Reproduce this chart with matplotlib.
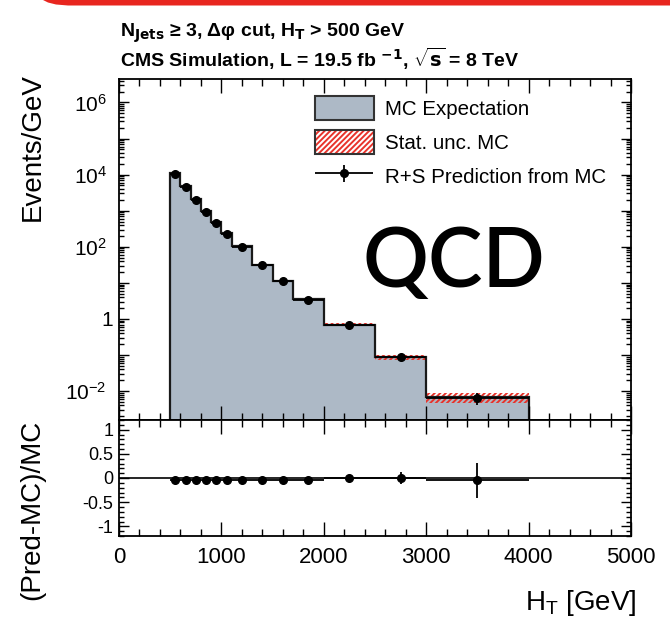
import numpy as np
import matplotlib.pyplot as plt
from matplotlib.patches import Patch, Polygon
from matplotlib.container import ErrorbarContainer
from matplotlib.legend_handler import HandlerTuple, HandlerErrorbar
from matplotlib.ticker import LogLocator, MultipleLocator, FuncFormatter, NullFormatter

plt.rcParams['font.family'] = ['Liberation Sans', 'DejaVu Sans']
plt.rcParams['mathtext.fontset'] = 'custom'
plt.rcParams['mathtext.rm'] = 'Liberation Sans'
plt.rcParams['mathtext.it'] = 'Liberation Sans:italic'
plt.rcParams['mathtext.bf'] = 'Liberation Sans Narrow:bold'
plt.rcParams['hatch.linewidth'] = 1.4

# H_T binning [GeV]
ht_edges = [500, 600, 700, 800, 900, 1000, 1100, 1300, 1500, 1700, 2000, 2500, 3000, 4000]
# MC expectation, events / GeV
mc_yield = [1.13e4, 4.9e3, 2.1e3, 1.0e3, 4.9e2, 2.45e2, 1.05e2, 32.0, 11.5, 3.6, 0.69, 0.086, 6.8e-3]
# relative stat. uncertainty of the MC
mc_stat_rel = [0.004, 0.005, 0.006, 0.008, 0.01, 0.012, 0.015, 0.02, 0.03, 0.05, 0.1, 0.17, 0.32]
# (Pred-MC)/MC of the R+S prediction and its uncertainty
ratio = [-0.05, -0.05, -0.05, -0.05, -0.05, -0.05, -0.05, -0.05, -0.05, -0.05, -0.01, 0.0, -0.05]
ratio_err = [0.005, 0.005, 0.006, 0.008, 0.01, 0.012, 0.015, 0.02, 0.03, 0.04, 0.06, 0.13, 0.36]

edges = np.array(ht_edges, dtype=float)
mc = np.array(mc_yield)
centers = 0.5 * (edges[1:] + edges[:-1])
half = 0.5 * (edges[1:] - edges[:-1])
stat = mc * np.array(mc_stat_rel)
pred = mc * (1 + np.array(ratio))
pred_err = pred * np.array(ratio_err)

fill_c = '#adb9c6'
band_c = '#e8332b'
line_c = '#1a1a1a'

W, H = 670, 626
fig = plt.figure(figsize=(6.7, 6.26), dpi=100)

def fx(px):
    return px / W

def fy(py):
    return 1 - py / H

ax = fig.add_axes([fx(119), fy(420), fx(631) - fx(119), fy(79) - fy(420)])
ax2 = fig.add_axes([fx(119), fy(536), fx(631) - fx(119), fy(420) - fy(536)])

# --- upper panel
ax.stairs(mc, edges, fill=True, facecolor=fill_c, edgecolor='none', baseline=1e-5)
ax.bar(centers, 2 * stat, bottom=mc - stat, width=2 * half, fill=False,
       hatch='//////', edgecolor=band_c, linewidth=0)
ax.stairs(mc, edges, color=line_c, lw=1.6, baseline=1e-5)
eb = ax.errorbar(centers, pred, xerr=half, yerr=pred_err, fmt='o', color='black',
                 ms=5.5, elinewidth=1.3, capsize=0)

ax.set_yscale('log')
ax.set_xlim(0, 5000)
ax.set_ylim(10 ** -2.8, 10 ** 6.65)

def logfmt(v, pos):
    e = int(round(np.log10(v)))
    if e % 2:
        return ''
    if e == 0:
        return '1'
    return r'$10^{%d}$  ' % e

ax.yaxis.set_major_locator(LogLocator(base=10, numticks=30))
ax.yaxis.set_minor_locator(LogLocator(base=10, subs=np.arange(2, 10), numticks=30))
ax.yaxis.set_major_formatter(FuncFormatter(logfmt))
ax.yaxis.set_minor_formatter(NullFormatter())
ax.xaxis.set_major_locator(MultipleLocator(1000))
ax.xaxis.set_minor_locator(MultipleLocator(200))
ax.tick_params(which='both', direction='in', top=True, right=True, width=1)
ax.tick_params(axis='x', which='major', length=10, labelbottom=False)
ax.tick_params(axis='x', which='minor', length=5)
ax.tick_params(axis='y', which='major', length=7, labelsize=15, pad=4)
ax.tick_params(axis='y', which='minor', length=3.5)
for s in ax.spines.values():
    s.set_linewidth(1.3)

# --- ratio panel
ax2.axhline(0, color='black', lw=1.2)
ax2.errorbar(centers, ratio, xerr=half, yerr=ratio_err, fmt='o', color='black',
             ms=5.5, elinewidth=1.3, capsize=0)
ax2.set_xlim(0, 5000)
ax2.set_ylim(-1.2, 1.2)
ax2.xaxis.set_major_locator(MultipleLocator(1000))
ax2.xaxis.set_minor_locator(MultipleLocator(200))
ax2.yaxis.set_major_locator(MultipleLocator(0.5))
ax2.yaxis.set_minor_locator(MultipleLocator(0.1))
ax2.yaxis.set_major_formatter(FuncFormatter(lambda v, p: '%g' % v))
ax2.tick_params(which='both', direction='in', top=True, right=True, width=1)
ax2.tick_params(axis='x', which='major', length=10, labelsize=16, pad=8)
ax2.tick_params(axis='x', which='minor', length=5)
ax2.tick_params(axis='y', which='major', length=7, labelsize=13, pad=4)
ax2.tick_params(axis='y', which='minor', length=3.5)
for s in ax2.spines.values():
    s.set_linewidth(1.3)

# --- legend
h_mc = Patch(facecolor=fill_c, edgecolor='#333333', lw=1.5)
h_stat = (Patch(facecolor='white', edgecolor=band_c, hatch='//////', lw=0),
          Patch(fill=False, edgecolor='#333333', lw=1.5))
ax.legend([h_mc, h_stat, eb], ['MC Expectation', 'Stat. unc. MC', 'R+S Prediction from MC'],
          loc='upper left', bbox_to_anchor=(fx(315), fy(96)), bbox_transform=fig.transFigure,
          frameon=False, fontsize=14.8, handlelength=2.85, handleheight=1.4,
          labelspacing=0.5, handletextpad=0.55, borderpad=0, borderaxespad=0,
          handler_map={tuple: HandlerTuple(ndivide=1, pad=0),
                       ErrorbarContainer: HandlerErrorbar(xerr_size=1.42, yerr_size=0.42)})

# --- labels
fig.text(fx(33), fy(73), 'Events/GeV', rotation=90, ha='center', va='top', fontsize=20)
fig.text(fx(32), fy(420), '(Pred-MC)/MC', rotation=90, ha='center', va='top', fontsize=20)
fig.text(fx(637), fy(603), r'H$_{\rm T}$ [GeV]', ha='right', va='center', fontsize=20)

hdr = dict(family=['Liberation Sans Narrow', 'Liberation Sans'], weight='bold', fontsize=14)
fig.text(fx(120), fy(37), r'N$_{\mathbf{Jets}}$ ≥ 3, Δφ cut, H$_{\mathbf{T}}$ > 500 GeV', **hdr)
fig.text(fx(120), fy(67), r'CMS Simulation, L = 19.5 fb $^{\mathbf{-1}}$, $\sqrt{\mathbf{s}}$ = 8 TeV', **hdr)

fig.text(fx(362), fy(287), 'QCD', fontsize=59, family=['Lato', 'DejaVu Sans'],
         weight='semibold', ha='left', va='baseline')

# red strip along the top edge
strip = [(fx(43), fy(0)), (fx(48), fy(2.5)), (fx(56), fy(4.5)), (fx(68), fy(5.5)),
         (fx(670), fy(5.5)), (fx(670), fy(0))]
fig.add_artist(Polygon(strip, closed=True, transform=fig.transFigure,
                       facecolor='#e8261f', edgecolor='none'))

fig.savefig('out.png', dpi=100)
